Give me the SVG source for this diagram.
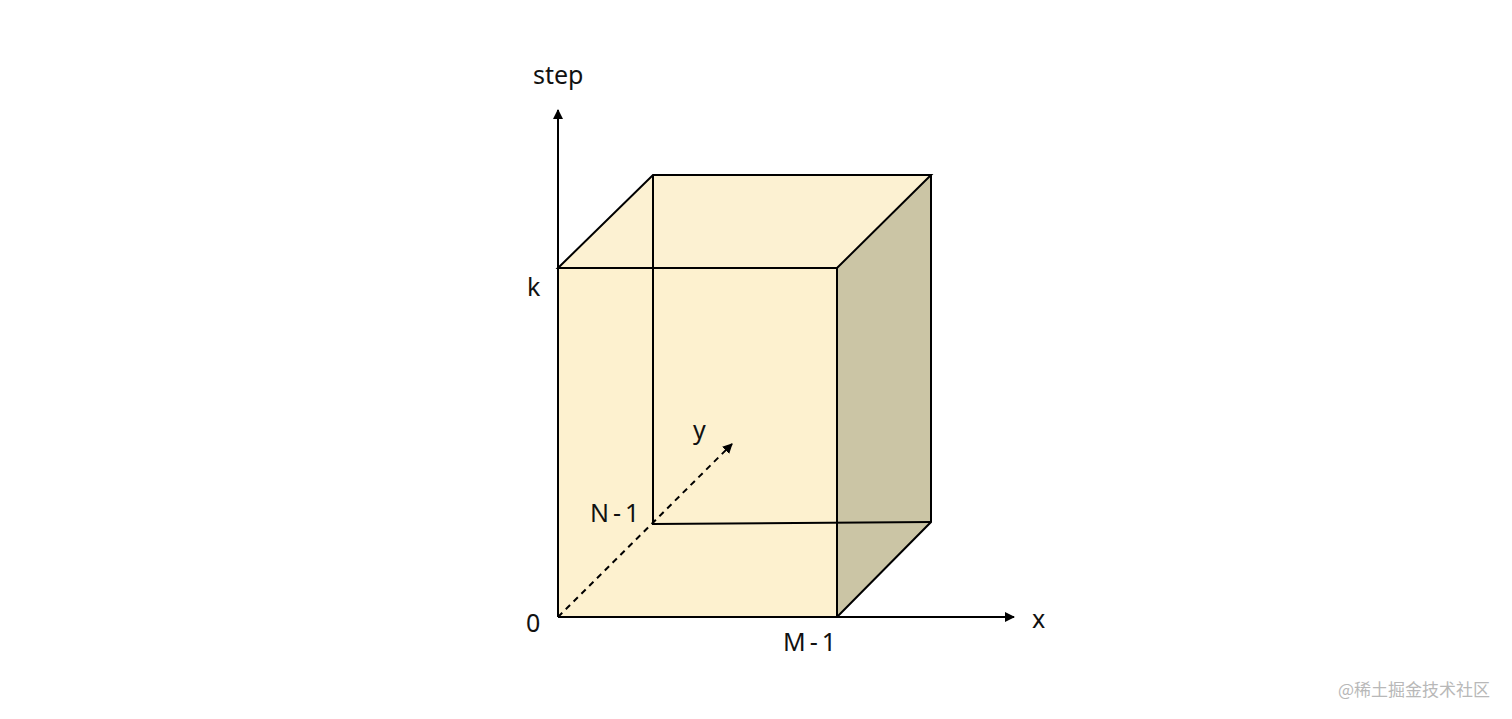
<svg xmlns="http://www.w3.org/2000/svg" width="1512" height="719" viewBox="0 0 1512 719">
<style>
.edge{fill:none;stroke:#000;stroke-width:2}
.lbl{font-family:"Noto Sans","Liberation Sans",sans-serif;font-size:25px;fill:#111}
.sp{letter-spacing:4px}
.axis{stroke:#000;stroke-width:2;fill:none}
</style>
<defs>
<marker id="arr" viewBox="0 0 10 10" refX="9" refY="5" markerWidth="5" markerHeight="5" orient="auto">
<path d="M0,0 L10,5 L0,10 z" fill="#000"/>
</marker>
</defs>
<rect width="1512" height="719" fill="#fff"/>
<g id="cube">
<polygon points="558,268 653,175 931,175 837,268" fill="#fcf1d2"/>
<polygon points="837,268 931,175 931,522 837,617" fill="#cbc5a5"/>
<rect x="558" y="268" width="279" height="349" fill="#fdf1cf"/>
<path class="edge" d="M558,268 L653,175 L931,175 L837,268 Z"/>
<path class="edge" d="M837,268 L837,617 M931,175 L931,522 L837,617"/>
<path class="edge" d="M653,175 L653,524 L931,522"/>
<path class="edge" d="M558,268 L837,268"/>
</g>
<g id="connectors">
<path class="axis" d="M558,617 L558,110" marker-end="url(#arr)"/>
<path class="axis" d="M558,617 L1014,617" marker-end="url(#arr)"/>
<path class="axis" d="M558,617 L732,444" stroke-dasharray="6,5" marker-end="url(#arr)"/>
</g>
<g id="labels">
<text class="lbl" x="533" y="84">step</text>
<text class="lbl" x="527" y="296">k</text>
<text class="lbl" x="526" y="632">0</text>
<text class="lbl sp" x="783" y="651">M-1</text>
<text class="lbl" x="1032" y="628">x</text>
<text class="lbl" x="693" y="439">y</text>
<text class="lbl sp" x="590" y="522">N-1</text>
</g>
<text x="1490" y="696" text-anchor="end" font-family="'Noto Sans CJK SC','Noto Sans',sans-serif" font-size="17" fill="#b8b8b8">@稀土掘金技术社区</text>
</svg>
